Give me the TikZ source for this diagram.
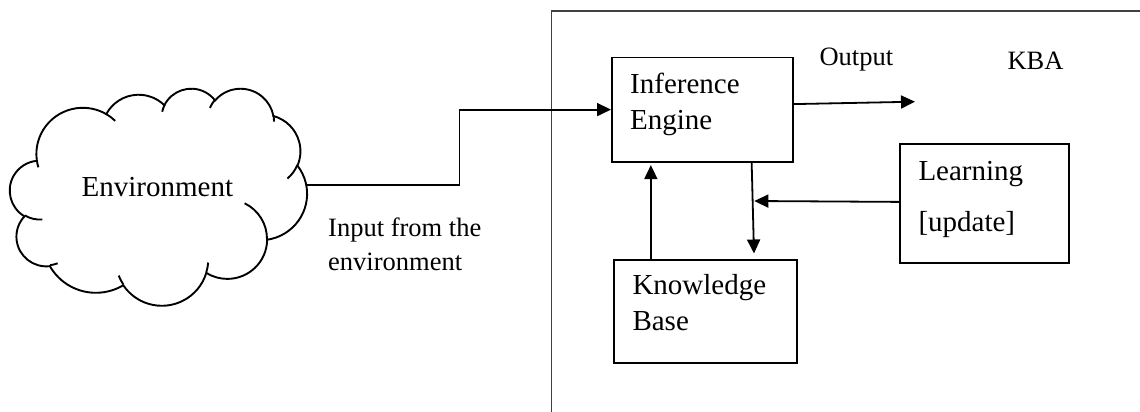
\documentclass[tikz,border=0pt]{standalone}
\usepackage{fontspec}
\setmainfont{Liberation Serif}
\usetikzlibrary{arrows.meta}
\begin{document}
\begin{tikzpicture}[x=1pt,y=-1pt,
  box/.style={draw=black, line width=1.8pt, rectangle, inner sep=0pt, anchor=north west},
  txt/.style={inner sep=0pt, anchor=base west, font=\fontsize{29}{35}\selectfont},
  lbl/.style={inner sep=0pt, anchor=base west, font=\fontsize{26.5}{32}\selectfont},
  arr/.style={line width=1.8pt, -{Triangle[length=14pt,width=13pt]}},
  frame/.style={line width=1.6pt, draw=black!75}]
\useasboundingbox (0,0) rectangle (1140,412);
\clip (0,0) rectangle (1140,412);
\fill[white] (0,0) rectangle (1140,412);

% KBA frame (cut off at right and bottom)
\draw[frame] (551.5,420) -- (551.5,11) -- (1150,11);

% Environment cloud
\node[inner sep=0pt, minimum width=297pt, minimum height=217pt, anchor=north west] (env) at (10,88) {};
\begin{scope}[shift={(env.north west)}, x=0.6875pt, y=-0.50231pt, line width=1.9pt]
\draw[fill=white] (39.00,143.70)
  arc[start angle=172.25, delta angle=128.10, x radius=67.53, y radius=91.90]
  arc[start angle=-152.02, delta angle=106.57, x radius=53.33, y radius=72.67]
  arc[start angle=-153.48, delta angle=116.13, x radius=43.65, y radius=59.45]
  arc[start angle=-139.70, delta angle=129.49, x radius=48.57, y radius=65.95]
  arc[start angle=-74.77, delta angle=97.98, x radius=53.33, y radius=72.73]
  arc[start angle=-37.51, delta angle=119.37, x radius=67.75, y radius=92.20]
  arc[start angle=0.46, delta angle=121.51, x radius=57.85, y radius=78.67]
  arc[start angle=16.84, delta angle=129.38, x radius=67.52, y radius=92.15]
  arc[start angle=58.98, delta angle=91.21, x radius=77.20, y radius=105.43]
  arc[start angle=83.31, delta angle=139.79, x radius=43.60, y radius=59.18]
  arc[start angle=120.36, delta angle=143.75, x radius=43.45, y radius=59.45]
  -- cycle;
\draw
  (46.93,261.77) arc[start angle=85.55, delta angle=34.81, x radius=43.45, y radius=59.45]
  (69.28,348.99) arc[start angle=68.23, delta angle=15.08, x radius=43.60, y radius=59.18]
  (164.78,390.90) arc[start angle=146.22, delta angle=12.25, x radius=67.52, y radius=92.15]
  (288.27,347.51) arc[start angle=4.74, delta angle=12.10, x radius=67.52, y radius=92.15]
  (341.29,229.54) arc[start angle=-64.03, delta angle=64.49, x radius=57.85, y radius=78.67]
  (417.98,153.54) arc[start angle=23.21, delta angle=26.43, x radius=53.33, y radius=72.73]
  (383.24,54.26) arc[start angle=-10.21, delta angle=11.03, x radius=48.57, y radius=65.95]
  (290.78,39.52) arc[start angle=-156.29, delta angle=16.59, x radius=48.57, y radius=65.95]
  (221.41,47.20) arc[start angle=-167.72, delta angle=14.24, x radius=43.65, y radius=59.45]
  (140.00,51.92) arc[start angle=-59.64, delta angle=13.91, x radius=67.53, y radius=91.90]
  (41.27,157.89) arc[start angle=163.19, delta angle=9.06, x radius=67.53, y radius=91.90];
\end{scope}
\node[txt] (envt) at (81.5,196.7) {Environment};

% boxes
\node[box, minimum width=180.7pt, minimum height=104pt] (ie) at (611,56.7) {};
\node[box, minimum width=182.7pt, minimum height=102.7pt] (kb) at (613.3,259) {};
\node[box, minimum width=169.3pt, minimum height=118.4pt] (learn) at (899,143.3) {};

\node[txt] (ie1) at (630,93.3) {Inference};
\node[txt] (ie2) at (630,129.3) {Engine};
\node[txt] (kb1) at (632.3,294.3) {Knowledge};
\node[txt] (kb2) at (632.3,330.7) {Base};
\node[txt] (le1) at (918.3,180.7) {Learning};
\node[txt] (le2) at (918.3,231.7) {[update]};

% labels
\node[lbl] (outl) at (819.3,66) {Output};
\node[lbl] (kba) at (1007.3,70) {KBA};
\node[lbl] (in1) at (328,236.7) {Input from the};
\node[lbl] (in2) at (328,270) {environment};

% free ends
\coordinate (outend) at (915,101.7);
\coordinate (kbin) at (754,253.5);
\coordinate (lt) at (754.3,201);

% connectors
\draw[arr] ([yshift=11.5pt]env.east) -- ++(152,0) |- (ie.west);
\draw[arr] ([yshift=5.5pt]ie.east) -- (outend);
\draw[arr] ([xshift=49.4pt]ie.south) -- (kbin);
\draw[arr] ([xshift=-54.7pt]kb.north) -- ([xshift=-51.4pt,yshift=-2.6pt]ie.south);
\draw[arr] ([yshift=1.5pt]learn.west) -- (lt);
\end{tikzpicture}
\end{document}
